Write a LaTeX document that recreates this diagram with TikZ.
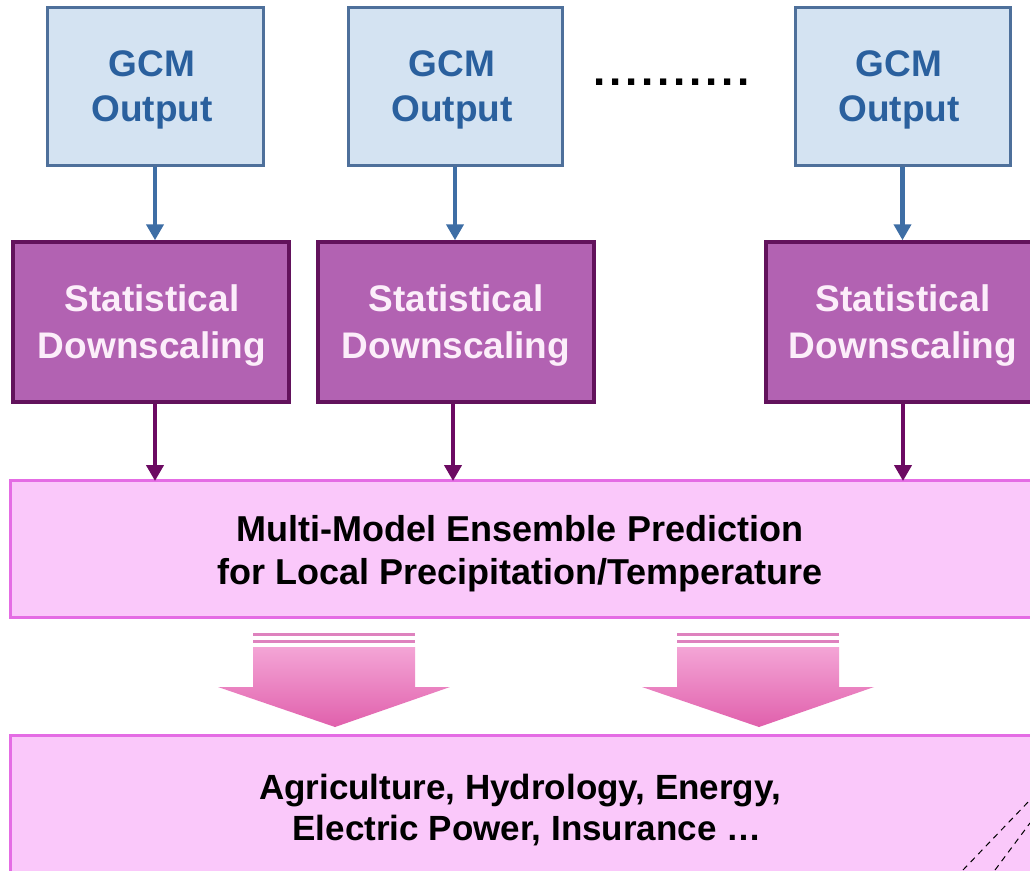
\documentclass[tikz,border=0pt]{standalone}
\usepackage{fontspec}
\setmainfont{Liberation Sans}
\usetikzlibrary{arrows.meta}
\definecolor{gcmfill}{RGB}{212,227,242}
\definecolor{gcmdraw}{RGB}{78,112,155}
\definecolor{gcmtext}{RGB}{42,96,158}
\definecolor{sdfill}{RGB}{178,98,178}
\definecolor{sddraw}{RGB}{98,18,92}
\definecolor{sdtext}{RGB}{252,238,250}
\definecolor{pkfill}{RGB}{250,200,250}
\definecolor{pkdraw}{RGB}{228,108,228}
\definecolor{bluearr}{RGB}{62,110,165}
\definecolor{purparr}{RGB}{108,10,98}
\definecolor{bigtop}{RGB}{244,165,214}
\definecolor{bigbot}{RGB}{224,96,172}
\definecolor{stripe}{RGB}{222,130,190}
\begin{document}
\begin{tikzpicture}[x=1pt,y=-1pt,
  gcmbox/.style={draw=gcmdraw, line width=3pt, fill=gcmfill, text=gcmtext,
    align=center, font=\bfseries\fontsize{37}{45}\selectfont, minimum height=158pt},
  sdbox/.style={draw=sddraw, line width=3.5pt, fill=sdfill, text=sdtext,
    align=center, font=\bfseries\fontsize{37}{47}\selectfont, minimum height=160pt},
  pkbox/.style={draw=pkdraw, line width=3pt, fill=pkfill},
  pktext/.style={align=center, text=black, font=\bfseries\fontsize{36}{43}\selectfont},
  bluelink/.style={draw=bluearr, line width=4.5pt, -{Triangle[width=17pt,length=16pt]}},
  purplelink/.style={draw=purparr, line width=4.5pt, -{Triangle[width=17pt,length=16pt]}},
  bigarrow/.style={top color=bigtop, bottom color=bigbot, draw=none},
  stripeline/.style={draw=stripe, line width=3pt},
  cutline/.style={draw=black, line width=1pt, dashed, dash pattern=on 6pt off 5pt}
]
\useasboundingbox (0,0) rectangle (1030,870);
\fill[white] (0,0) rectangle (1030,870);
\clip (0,0) rectangle (1030,870);

% GCM output boxes
\node[gcmbox, minimum width=216pt] (g1) at (155,86) {};
\node[gcmbox, minimum width=214pt] (g2) at (455,86) {};
\node[gcmbox, minimum width=215pt] (g3) at (902.5,86) {};
\node[gcmbox, draw=none, fill=none] (g1t) at (152,90) {GCM\\Output};
\node[gcmbox, draw=none, fill=none] (g2t) at (452,90) {GCM\\Output};
\node[gcmbox, draw=none, fill=none] (g3t) at (899,90) {GCM\\Output};

% dots
\node[font=\bfseries\fontsize{44}{44}\selectfont, inner sep=0pt] (dots) at (672,82)
  {\foreach \i in {1,...,10}{\makebox[16pt]{.}}};

% Statistical downscaling boxes
\node[sdbox, minimum width=276pt] (s1) at (151,322) {};
\node[sdbox, minimum width=276pt] (s2) at (456,322) {};
\node[sdbox, minimum width=300pt] (s3) at (916,322) {};
\node[sdbox, draw=none, fill=none] (s1t) at (152,326) {Statistical\\Downscaling};
\node[sdbox, draw=none, fill=none] (s2t) at (456,326) {Statistical\\Downscaling};
\node[sdbox, draw=none, fill=none] (s3t) at (903,326) {Statistical\\Downscaling};

% ensemble box
\node[pkbox, minimum width=1040pt, minimum height=137pt] (ens) at (530,548.5) {};
\node[pktext] (enst) at (520,554)
  {Multi-Model Ensemble Prediction\\for Local Precipitation/Temperature};

% applications box
\node[pkbox, minimum width=1040pt, minimum height=160pt] (app) at (530,815) {};
\node[pktext, font=\bfseries\fontsize{35}{41}\selectfont] (appt) at (520,810)
  {Agriculture, Hydrology, Energy,\\\hspace*{14pt}Electric Power, Insurance \dots};

% connectors
\draw[bluelink] (g1.south) -- (g1.south |- s1.north);
\draw[bluelink] (g2.south) -- (g2.south |- s2.north);
\draw[bluelink] (g3.south) -- (g3.south |- s3.north);
\coordinate (e1) at (155,481);
\coordinate (e2) at (453,481);
\coordinate (e3) at (903,481);
\draw[purplelink] (s1.south -| e1) -- (e1);
\draw[purplelink] (s2.south -| e2) -- (e2);
\draw[purplelink] (s3.south -| e3) -- (e3);

% big arrows
\foreach \dx in {0,424}{
  \begin{scope}[xshift=\dx]
    \draw[stripeline] (253,634) -- (415,634);
    \draw[stripeline] (253,641) -- (415,641);
    \shade[bigarrow] (253,647) -- (415,647) -- (415,687) -- (450,687)
      -- (335,727) -- (218,687) -- (253,687) -- cycle;
  \end{scope}
}

% dashed cut lines
\draw[cutline] (963,870) -- (1030,800);
\draw[cutline] (995,870) -- (1030,823);
\end{tikzpicture}
\end{document}
